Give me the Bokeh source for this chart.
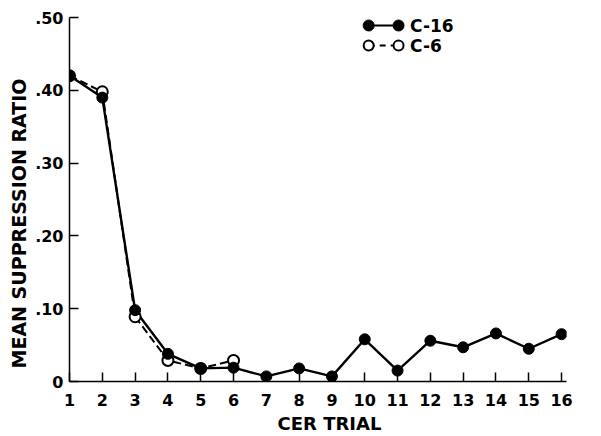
from bokeh.plotting import figure
from bokeh.models import FixedTicker, Label, Title
from bokeh.embed import file_html
from bokeh.resources import INLINE

trials = list(range(1, 17))
c16 = [0.42, 0.39, 0.098, 0.038, 0.018, 0.019, 0.007, 0.018, 0.007, 0.058, 0.015, 0.056, 0.047, 0.066, 0.045, 0.065]
trials_c6 = [1, 2, 3, 4, 5, 6]
c6 = [0.42, 0.398, 0.089, 0.029, 0.018, 0.029]

y_ticks = [0, 0.1, 0.2, 0.3, 0.4, 0.5]
y_tick_labels = ["0", ".10", ".20", ".30", ".40", ".50"]

FONT = "DejaVu Sans"

p = figure(width=590, height=436, x_range=(1, 16.15), y_range=(0, 0.5),
           output_backend="svg", toolbar_location=None,
           min_border_left=69, min_border_right=24, min_border_top=17, min_border_bottom=55)
p.outline_line_color = None
p.grid.visible = False
p.background_fill_color = "white"
p.border_fill_color = "white"

for ax in (p.xaxis[0], p.yaxis[0]):
    ax.axis_line_color = "black"
    ax.axis_line_width = 1.5
    ax.major_tick_in = 9
    ax.major_tick_out = 0
    ax.minor_tick_line_color = None
    ax.major_tick_line_width = 1.5
    ax.major_label_text_font = FONT
    ax.major_label_text_font_style = "bold"
    ax.major_label_text_font_size = "16px"
    ax.major_label_text_color = "black"

p.xaxis.ticker = FixedTicker(ticks=trials)
p.xaxis.major_label_standoff = 12
p.yaxis.ticker = FixedTicker(ticks=y_ticks)
p.yaxis.major_label_overrides = {t: l for t, l in zip(y_ticks, y_tick_labels)}
p.yaxis.major_label_standoff = 6

# axis titles, placed off-centre as in the original figure
p.add_layout(Title(text="CER TRIAL", align="left", offset=208, text_font=FONT,
                   text_font_style="bold", text_font_size="18px", text_color="black",
                   standoff=5), "below")
p.add_layout(Title(text="MEAN SUPPRESSION RATIO", align="left", offset=13, text_font=FONT,
                   text_font_style="bold", text_font_size="19px", text_color="black",
                   standoff=5), "left")

# data
p.line(trials_c6, c6, line_color="black", line_width=2, line_dash="8 4")
p.line(trials, c16, line_color="black", line_width=2.4)
p.scatter(trials_c6, c6, size=11, marker="circle", fill_color="white", line_color="black", line_width=2)
p.scatter(trials, c16, size=11, marker="circle", fill_color="black", line_color="black", line_width=1)

# legend (layout positions)
lx = [10.12, 11.03]
ly16 = [0.489, 0.489]
ly6 = [0.4615, 0.4615]
p.line(lx, ly16, line_color="black", line_width=2)
p.scatter(lx, ly16, size=11, fill_color="black", line_color="black")
p.line(lx, ly6, line_color="black", line_width=2, line_dash="6 5")
p.scatter(lx, ly6, size=10, fill_color="white", line_color="black", line_width=2)
for yy, txt in ((0.489, "C-16"), (0.4615, "C-6")):
    p.add_layout(Label(x=11.38, y=yy, text=txt, text_font=FONT, text_font_style="bold",
                       text_font_size="17px", text_baseline="middle", text_color="black"))

open("out.html", "w").write(file_html(p, INLINE))
